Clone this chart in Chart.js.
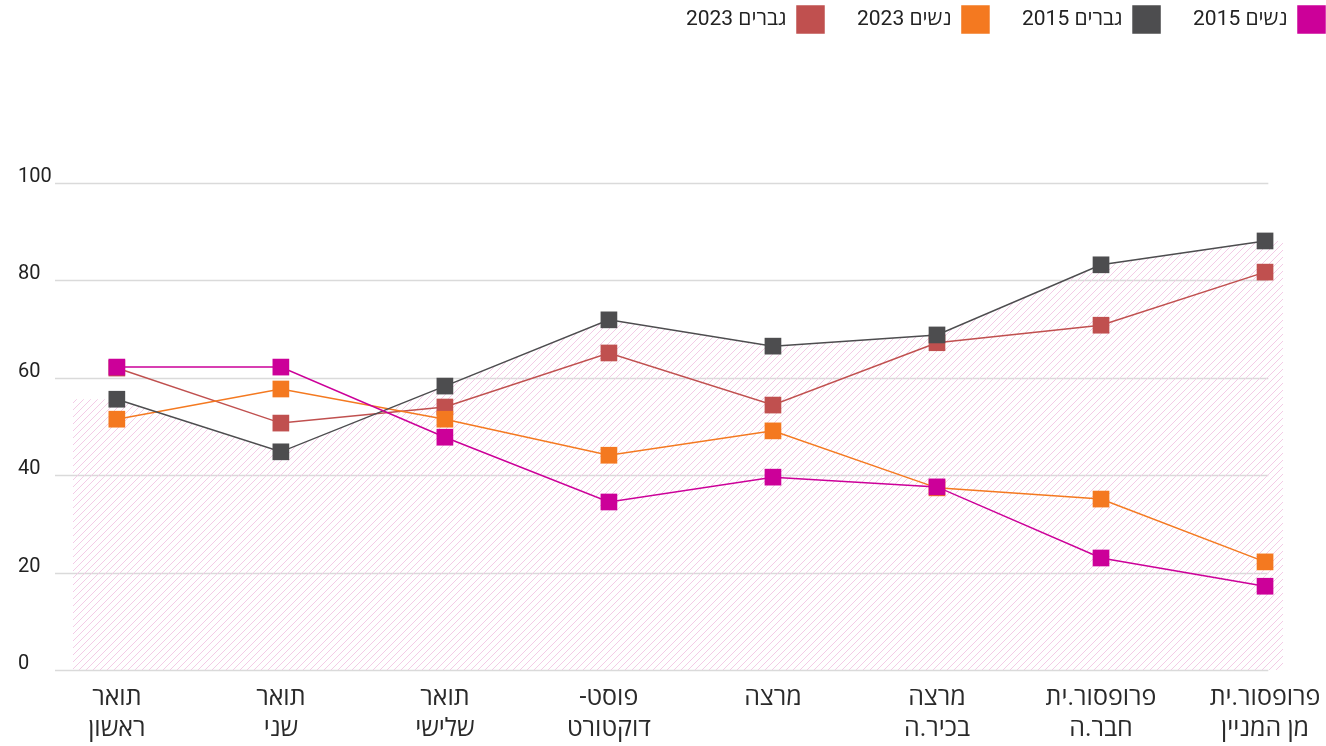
<!DOCTYPE html>
<html>
<head>
<meta charset="utf-8">
<script src="https://cdn.jsdelivr.net/npm/chart.js@4"></script>
<style>
  body { margin: 0; background: #fff; }
  #wrap { width: 1326px; height: 746px; position: relative; }
  canvas { direction: rtl; }
</style>
</head>
<body>
<div id="wrap"><canvas id="chart" dir="rtl"></canvas></div>
<script>
// categories (two lines each)
const categories = [
  ['תואר', 'ראשון'],
  ['תואר', 'שני'],
  ['תואר', 'שלישי'],
  ['פוסט-', 'דוקטורט'],
  ['מרצה'],
  ['מרצה', 'בכיר.ה'],
  ['פרופסור.ית', 'חבר.ה'],
  ['פרופסור.ית', 'מן המניין']
];

const women2015 = [62.2, 62.2, 47.8, 34.5, 39.6, 37.6, 23.0, 17.2];
const men2015 = [55.6, 44.8, 58.3, 71.9, 66.5, 68.8, 83.2, 88.1];
const women2023 = [51.5, 57.7, 51.5, 44.1, 49.1, 37.4, 35.1, 22.2];
const men2023 = [62.0, 50.7, 54.0, 65.1, 54.4, 67.2, 70.8, 81.7];

const seriesNames = ['נשים 2015', 'גברים 2015', 'נשים 2023', 'גברים 2023'];
const yTicks = [0, 20, 40, 60, 80, 100];

const FONT = 'Roboto, "Open Sans", "DejaVu Sans", sans-serif';

// x range (category index units), hatch edges and grid end
const xMin = -0.377, xMax = 7.116;
const hatchLeft = -0.268, hatchRight = 7.11;
const gridEnd = 7.02;

// diagonal hatch pattern
const tile = document.createElement('canvas');
tile.width = 7; tile.height = 7;
const tc = tile.getContext('2d');
tc.strokeStyle = '#f3cce6';
tc.lineWidth = 1;
tc.beginPath();
tc.moveTo(0, 7); tc.lineTo(7, 0);
tc.moveTo(-1, 1); tc.lineTo(1, -1);
tc.moveTo(6, 8); tc.lineTo(8, 6);
tc.stroke();
const hatch = tc.createPattern(tile, 'repeat');

const toPoints = arr => arr.map((v, i) => ({ x: i, y: v }));

const hatchData = [{ x: hatchLeft, y: men2015[0] }]
  .concat(toPoints(men2015))
  .concat([{ x: hatchRight, y: men2015[men2015.length - 1] }]);

function series(label, data, color, order) {
  return {
    label: label,
    data: toPoints(data),
    borderColor: color,
    backgroundColor: color,
    borderWidth: 1.5,
    pointStyle: 'rect',
    pointRadius: 11.8,
    pointHoverRadius: 11.8,
    pointBorderWidth: 0,
    pointBackgroundColor: color,
    order: order,
    fill: false
  };
}

const gridLines = {
  id: 'gridLines',
  beforeDatasetsDraw(chart) {
    const { ctx, chartArea, scales: { x, y } } = chart;
    const right = x.getPixelForValue(gridEnd);
    ctx.save();
    ctx.strokeStyle = '#dadada';
    ctx.lineWidth = 1.5;
    yTicks.forEach(t => {
      const py = Math.round(y.getPixelForValue(t)) + 0.5;
      ctx.beginPath();
      ctx.moveTo(chartArea.left, py);
      ctx.lineTo(right, py);
      ctx.stroke();
    });
    ctx.restore();
  }
};

const legendHeight = {
  id: 'legendHeight',
  beforeInit(chart) {
    const fit = chart.legend.fit;
    chart.legend.fit = function () {
      fit.bind(chart.legend)();
      this.height = 210;
    };
  }
};

new Chart(document.getElementById('chart'), {
  type: 'line',
  data: {
    datasets: [
      series(seriesNames[0], women2015, '#cc0099', 1),
      series(seriesNames[1], men2015, '#4d4d4f', 2),
      series(seriesNames[2], women2023, '#f47920', 3),
      series(seriesNames[3], men2023, '#c0504f', 4),
      {
        label: 'hatch',
        data: hatchData,
        borderWidth: 0,
        pointRadius: 0,
        backgroundColor: hatch,
        fill: 'origin',
        order: 10
      }
    ]
  },
  options: {
    responsive: true,
    maintainAspectRatio: false,
    animation: false,
    layout: { padding: { top: -27, left: 18, right: -32, bottom: 0 } },
    plugins: {
      tooltip: { enabled: false },
      legend: {
        position: 'top',
        align: 'start',
        rtl: true,
        textDirection: 'rtl',
        labels: {
          boxWidth: 27,
          boxHeight: 27,
          padding: 33,
          color: '#222',
          font: { family: FONT, size: 21 },
          filter: item => item.text !== 'hatch'
        }
      }
    },
    scales: {
      x: {
        type: 'linear',
        min: xMin,
        max: xMax,
        grid: { display: false },
        border: { display: false },
        afterBuildTicks: s => { s.ticks = categories.map((c, i) => ({ value: i })); },
        afterFit: s => { s.height = 76; },
        ticks: {
          autoSkip: false,
          maxRotation: 0,
          padding: 5,
          color: '#2a2a2a',
          font: { family: FONT, size: 25, lineHeight: 1.24 },
          callback: v => categories[v]
        }
      },
      y: {
        min: 0,
        max: 100,
        grid: { display: false },
        border: { display: false },
        afterBuildTicks: s => { s.ticks = yTicks.map(v => ({ value: v })); },
        afterFit: s => { s.width = 37; },
        ticks: {
          crossAlign: 'far',
          labelOffset: -6,
          color: '#222',
          font: { family: FONT, size: 20 }
        }
      },
      y2: {
        type: 'linear',
        position: 'right',
        grid: { display: false },
        border: { display: false },
        ticks: { display: false },
        afterFit: s => { s.width = 69; }
      }
    }
  },
  plugins: [gridLines, legendHeight]
});
</script>
</body>
</html>
